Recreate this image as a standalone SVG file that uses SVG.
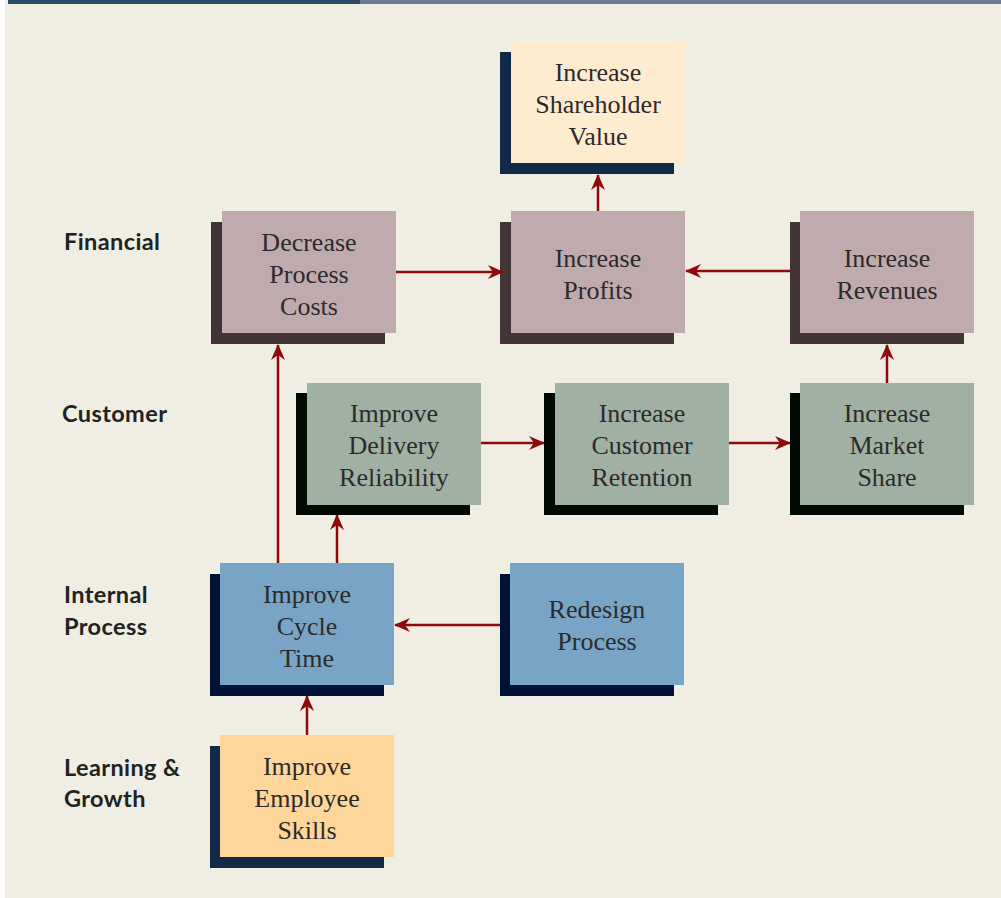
<svg xmlns="http://www.w3.org/2000/svg" width="1001" height="898" viewBox="0 0 1001 898">
<defs>
<style>
.bt{font-family:"Liberation Serif","Times New Roman",serif;font-size:26px;fill:#2b2b2b;text-anchor:middle}
.lb{font-family:Lato,"Open Sans",sans-serif;font-size:23.5px;font-weight:bold;fill:#222;letter-spacing:0.4px}
.c{stroke:#8e0a0a;stroke-width:2.5;fill:none;marker-end:url(#ah)}
</style>
<marker id="ah" viewBox="0 0 16 14" refX="15" refY="7" markerWidth="16" markerHeight="14" markerUnits="userSpaceOnUse" orient="auto">
<path d="M0,0 L16,7 L0,14 L5,7 Z" fill="#8e0a0a"/>
</marker>
</defs>
<rect x="0" y="0" width="1001" height="898" fill="#ffffff"/>
<rect x="5" y="0" width="996" height="898" fill="#f0ede2"/>
<rect x="8" y="0" width="352" height="4" fill="#2a4a6a"/>
<rect x="360" y="0" width="641" height="4" fill="#6a7a95"/>

<g id="labels">
<text class="lb" x="64" y="250">Financial</text>
<text class="lb" x="62" y="422">Customer</text>
<text class="lb" x="64" y="603">Internal</text>
<text class="lb" x="64" y="635">Process</text>
<text class="lb" x="64" y="776">Learning &amp;</text>
<text class="lb" x="64" y="807">Growth</text>
</g>

<g id="shareholder">
<rect x="500" y="52" width="174" height="122" fill="#112a45"/>
<rect x="511" y="41" width="174" height="122" fill="#ffebd0"/>
<text class="bt" x="598" y="81">Increase</text>
<text class="bt" x="598" y="113">Shareholder</text>
<text class="bt" x="598" y="145">Value</text>
</g>

<g id="costs">
<rect x="211" y="222" width="174" height="122" fill="#433536"/>
<rect x="222" y="211" width="174" height="122" fill="#bfaaad"/>
<text class="bt" x="309" y="251">Decrease</text>
<text class="bt" x="309" y="283">Process</text>
<text class="bt" x="309" y="315">Costs</text>
</g>

<g id="profits">
<rect x="500" y="222" width="174" height="122" fill="#433536"/>
<rect x="511" y="211" width="174" height="122" fill="#bfaaad"/>
<text class="bt" x="598" y="267">Increase</text>
<text class="bt" x="598" y="299">Profits</text>
</g>

<g id="revenues">
<rect x="790" y="222" width="174" height="122" fill="#433536"/>
<rect x="800" y="211" width="174" height="122" fill="#bfaaad"/>
<text class="bt" x="887" y="267">Increase</text>
<text class="bt" x="887" y="299">Revenues</text>
</g>

<g id="delivery">
<rect x="296" y="393" width="174" height="122" fill="#000a02"/>
<rect x="307" y="383" width="174" height="122" fill="#a0b1a4"/>
<text class="bt" x="394" y="422">Improve</text>
<text class="bt" x="394" y="454">Delivery</text>
<text class="bt" x="394" y="486">Reliability</text>
</g>

<g id="retention">
<rect x="544" y="393" width="174" height="122" fill="#000a02"/>
<rect x="555" y="383" width="174" height="122" fill="#a0b1a4"/>
<text class="bt" x="642" y="422">Increase</text>
<text class="bt" x="642" y="454">Customer</text>
<text class="bt" x="642" y="486">Retention</text>
</g>

<g id="market">
<rect x="790" y="393" width="174" height="122" fill="#000a02"/>
<rect x="800" y="383" width="174" height="122" fill="#a0b1a4"/>
<text class="bt" x="887" y="422">Increase</text>
<text class="bt" x="887" y="454">Market</text>
<text class="bt" x="887" y="486">Share</text>
</g>

<g id="cycle">
<rect x="210" y="574" width="174" height="122" fill="#001235"/>
<rect x="220" y="563" width="174" height="122" fill="#78a4c6"/>
<text class="bt" x="307" y="603">Improve</text>
<text class="bt" x="307" y="635">Cycle</text>
<text class="bt" x="307" y="667">Time</text>
</g>

<g id="redesign">
<rect x="500" y="574" width="174" height="122" fill="#001235"/>
<rect x="510" y="563" width="174" height="122" fill="#78a4c6"/>
<text class="bt" x="597" y="618">Redesign</text>
<text class="bt" x="597" y="650">Process</text>
</g>

<g id="employee">
<rect x="210" y="746" width="174" height="122" fill="#112a45"/>
<rect x="220" y="735" width="174" height="122" fill="#ffd699"/>
<text class="bt" x="307" y="775">Improve</text>
<text class="bt" x="307" y="807">Employee</text>
<text class="bt" x="307" y="839">Skills</text>
</g>

<g id="connectors">
<line class="c" x1="396" y1="272" x2="503" y2="272"/>
<line class="c" x1="790" y1="271" x2="686" y2="271"/>
<line class="c" x1="598" y1="211" x2="598" y2="175"/>
<line class="c" x1="887" y1="383" x2="887" y2="345"/>
<line class="c" x1="481" y1="443" x2="544" y2="443"/>
<line class="c" x1="729" y1="443" x2="790" y2="443"/>
<line class="c" x1="278" y1="563" x2="278" y2="345"/>
<line class="c" x1="337" y1="563" x2="337" y2="515"/>
<line class="c" x1="500" y1="625" x2="395" y2="625"/>
<line class="c" x1="307" y1="735" x2="307" y2="696"/>
</g>
</svg>
